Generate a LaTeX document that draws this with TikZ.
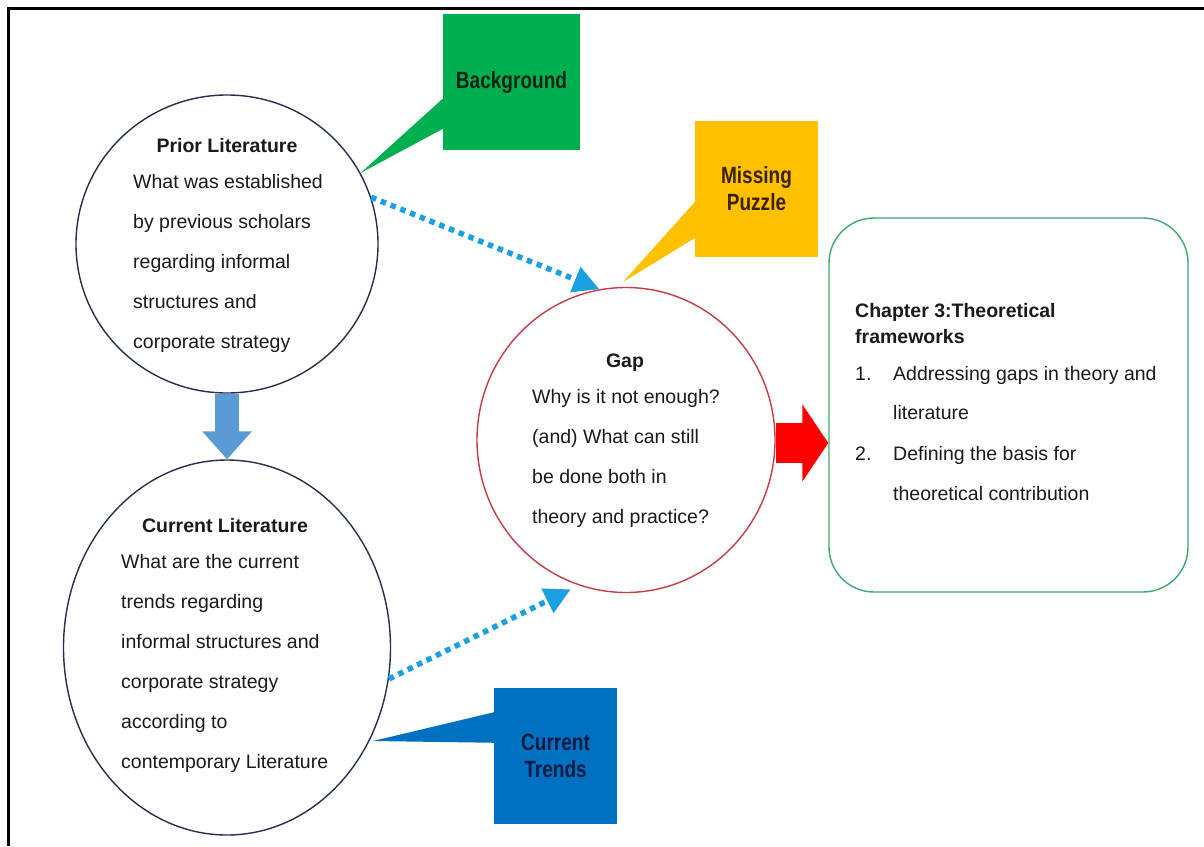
\documentclass[tikz,border=0pt]{standalone}
\usepackage{fontspec}
\setmainfont{Liberation Sans}
\newfontfamily\calloutfont[FakeStretch=0.81]{Liberation Sans}
\usetikzlibrary{shapes.geometric,arrows.meta,calc}

\definecolor{bodytext}{HTML}{1A1A1A}
\definecolor{navyline}{HTML}{25304A}
\definecolor{gapred}{HTML}{C43C48}
\definecolor{boxgreen}{HTML}{3DAA6E}
\definecolor{bggreen}{HTML}{00B050}
\definecolor{bgtext}{HTML}{0B2412}
\definecolor{puzzleyellow}{HTML}{FFC000}
\definecolor{puzzletext}{HTML}{3A2204}
\definecolor{trendsblue}{HTML}{0070C0}
\definecolor{trendstext}{HTML}{0B1A44}
\definecolor{downblue}{HTML}{5B9BD5}
\definecolor{dotblue}{HTML}{1BA1E2}
\definecolor{arrowred}{HTML}{FF0000}

% one text node per line, baselines 40pt apart
\newcommand\stacklines[4]{%
  \foreach \lineitem [count=\idx] in {#4}{%
    \node[txt] (#3\idx) at (#1,{#2+40*(\idx-1)}) {\lineitem};}}

\begin{document}
\begin{tikzpicture}[x=1pt,y=-1pt,
  txt/.style={font=\fontsize{19.5}{23}\selectfont, text=bodytext, inner sep=0pt, anchor=base west},
  ttl/.style={font=\fontsize{19.5}{23}\selectfont\bfseries, text=bodytext, inner sep=0pt, anchor=base},
  litcircle/.style={ellipse, draw=navyline, line width=1.4pt, inner sep=0pt},
  callout/.style={rectangle, inner sep=0pt, minimum width=123pt, minimum height=136pt,
    font=\calloutfont\fontsize{23.5}{27}\selectfont\bfseries, align=center},
  dotarrow/.style={draw=dotblue, line width=5.5pt, dash pattern=on 5.5pt off 5pt,
    -{Triangle[length=26pt,width=26pt]}},
]
\useasboundingbox (0,0) rectangle (1204,846);
\fill[white] (0,0) rectangle (1204,846);

% page frame
\draw[line width=3pt] (1204,8) -- (8,8) -- (8,846);

% main shapes
\node[litcircle, minimum width=302pt, minimum height=298pt] (prior) at (227,244) {};
\node[litcircle, minimum width=327pt, minimum height=375pt] (cur) at (227,647.5) {};
\node[ellipse, draw=gapred, line width=1.4pt, inner sep=0pt,
      minimum width=298pt, minimum height=305pt] (gap) at (626,440) {};
\node[rectangle, rounded corners=45pt, draw=boxgreen, line width=1.4pt,
      minimum width=359pt, minimum height=374pt] (chap) at (1008.5,405) {};

% callouts
\node[callout, fill=bggreen, text=bgtext, minimum width=137pt] (bg) at (511.5,82) {Background};
\coordinate (bgtip) at (prior.28);
\fill[bggreen] ([xshift=2pt,yshift=-83pt]bg.north west) -- (bgtip)
  -- ([xshift=2pt,yshift=-114pt]bg.north west) -- cycle;

\node[callout, fill=puzzleyellow, text=puzzletext] (mp) at (756.5,189) {Missing\\Puzzle};
\coordinate (mptip) at (623,282);
\fill[puzzleyellow] ([xshift=2pt,yshift=-79pt]mp.north west) -- (mptip)
  -- ([xshift=2pt,yshift=-116pt]mp.north west) -- cycle;

\node[callout, fill=trendsblue, text=trendstext] (ct) at (555.5,756) {Current\\Trends};
\coordinate (cttip) at (373,741);
\fill[trendsblue] ([xshift=2pt,yshift=-24pt]ct.north west) -- (cttip)
  -- ([xshift=2pt,yshift=-55pt]ct.north west) -- cycle;

% connectors
\draw[downblue, line width=24pt, -{Triangle[length=28pt,width=48pt]}] (prior.south) -- (cur.north);
\draw[dotarrow] (prior.18) -- (gap.100);
\draw[dotarrow, shorten >=9pt] (cur.-11) -- (gap.252);
\coordinate (redstart) at ([yshift=-3pt]gap.east);
\draw[arrowred, line width=40pt, -{Triangle[length=26pt,width=76pt]}] (redstart) -- (redstart -| chap.west);

% texts
\node[ttl] (priort) at (227,152) {Prior Literature};
\stacklines{133}{188}{pl}{{What was established},{by previous scholars},{regarding informal},{structures and},{corporate strategy}}

\node[ttl] (curt) at (225,532) {Current Literature};
\stacklines{121}{568}{cl}{{What are the current},{trends regarding},{informal structures and},{corporate strategy},{according to},{contemporary Literature}}

\node[ttl] (gapt) at (625,367) {Gap};
\stacklines{532}{403}{gl}{{Why is it not enough?},{(and) What can still},{be done both in},{theory and practice?}}

\node[ttl, anchor=base west] (ch1) at (855,317) {Chapter 3:Theoretical};
\node[ttl, anchor=base west] (ch2) at (855,343) {frameworks};
\node[txt] (n1) at (855,380) {1.};
\node[txt] (i1a) at (893,380) {Addressing gaps in theory and};
\node[txt] (i1b) at (893,419) {literature};
\node[txt] (n2) at (855,460) {2.};
\node[txt] (i2a) at (893,460) {Defining the basis for};
\node[txt] (i2b) at (893,500) {theoretical contribution};
\end{tikzpicture}
\end{document}
